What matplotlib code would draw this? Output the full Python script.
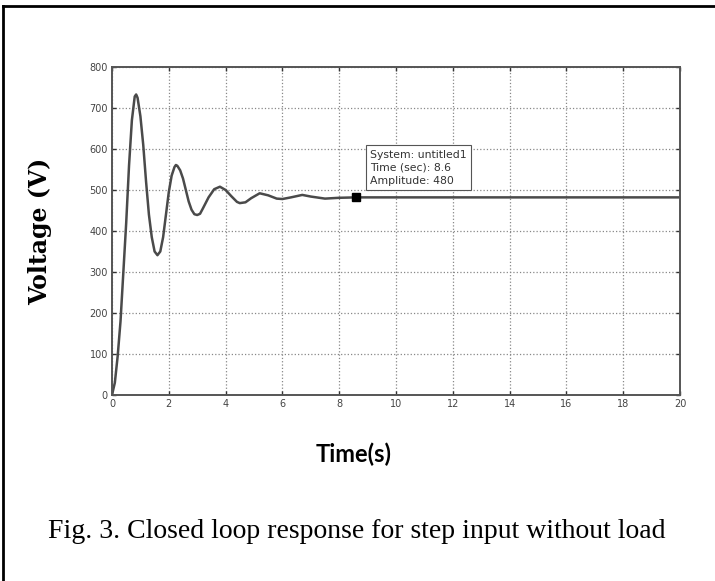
import numpy as np
import matplotlib.pyplot as plt
from matplotlib.lines import Line2D

# valores (resposta ao degrau, malha fechada)
t = [0, 0.1, 0.2, 0.3, 0.4, 0.5, 0.6, 0.7, 0.8, 0.85, 0.9, 1.0, 1.1, 1.2,
     1.3, 1.4, 1.5, 1.6, 1.7, 1.8, 1.9, 2.0, 2.1, 2.2, 2.25, 2.3, 2.4, 2.5,
     2.6, 2.7, 2.8, 2.9, 3.0, 3.1, 3.2, 3.4, 3.6, 3.8, 4.0, 4.2, 4.4, 4.5,
     4.7, 4.9, 5.2, 5.5, 5.8, 6.0, 6.3, 6.7, 7.0, 7.5, 8.0, 8.6, 20]
v = [0, 30, 95, 180, 300, 420, 560, 670, 728, 733, 725, 680, 610, 520,
     440, 385, 350, 341, 350, 385, 440, 495, 535, 556, 561, 559, 548, 528,
     500, 472, 452, 441, 439, 442, 455, 482, 502, 508, 500, 485, 471, 468,
     470, 480, 492, 487, 479, 478, 482, 488, 484, 479, 481, 482, 482]

tip_t = 8.6
tip_v = 482
tip_txt = "System: untitled1\nTime (sec): 8.6\nAmplitude: 480"

x_ticks = np.arange(0, 21, 2)
y_ticks = np.arange(0, 801, 100)

fig = plt.figure(figsize=(7.15, 5.81), dpi=100)
ax = fig.add_axes([112/715, 1 - 395/581, 568/715, 328/581])

ax.plot(t, v, color='#4a4a4a', lw=1.8)
ax.plot([tip_t], [tip_v], marker='s', color='black', ms=6, ls='none')

ax.annotate(tip_txt, xy=(tip_t, tip_v), xytext=(370, 395), textcoords='figure pixels',
            fontsize=7.8, color='#333333', family='DejaVu Sans', va='bottom', ha='left',
            linespacing=1.4,
            bbox=dict(boxstyle='square,pad=0.4', fc='white', ec='#555555', lw=0.8))

ax.set_xlim(0, 20)
ax.set_ylim(0, 800)
ax.set_xticks(x_ticks)
ax.set_yticks(y_ticks)
ax.tick_params(direction='in', top=True, right=True, length=3, width=1.0,
               labelsize=7, labelcolor='#444444', color='#333333', pad=3)
ax.grid(True, ls=':', color='#888888', lw=0.9)
for s in ax.spines.values():
    s.set_color('#555555')
    s.set_linewidth(1.4)

ax.set_ylabel("Voltage (V)", fontsize=17, fontweight='bold',
              family=['DejaVu Serif'])
ax.yaxis.set_label_coords(-0.105, 0.5)
ax.set_xlabel("Time(s)", fontsize=17, fontweight='bold',
              family=['Lato', 'DejaVu Sans'])
ax.xaxis.set_label_coords(0.425, -0.146)

fig.text(357/715, 1 - 531/581, "Fig. 3. Closed loop response for step input without load",
         fontsize=20, family=['Liberation Serif', 'DejaVu Serif'],
         ha='center', va='center')

# moldura (esquerda e topo)
fig.add_artist(Line2D([2.5/715, 2.5/715], [0, 1 - 6/581], transform=fig.transFigure,
                      color='black', lw=2))
fig.add_artist(Line2D([2.5/715, 1], [1 - 6/581, 1 - 6/581], transform=fig.transFigure,
                      color='black', lw=2))

fig.savefig('out.png', dpi=100)
